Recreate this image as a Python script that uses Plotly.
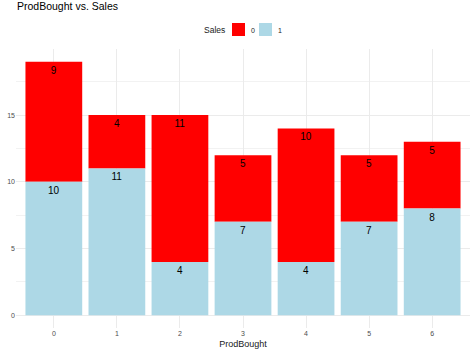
import plotly.graph_objects as go

prod_bought = ["0", "1", "2", "3", "4", "5", "6"]
sales_1 = [10, 11, 4, 7, 4, 7, 8]
sales_0 = [9, 4, 11, 5, 10, 5, 5]
legend_title = "Sales"
legend_labels = ["0", "1"]
legend_colors = ["#ff0000", "#add8e6"]

FONT = "Liberation Sans, Arial, sans-serif"
W, H = 474, 355
LABEL_SIZE = 10

fig = go.Figure()
fig.add_trace(go.Bar(
    x=prod_bought, y=sales_0, name="0", marker=dict(color=legend_colors[0], line=dict(width=0)),
    text=sales_0, textposition="inside", insidetextanchor="end",
    insidetextfont=dict(color="black", size=LABEL_SIZE, family=FONT), textangle=0,
    offsetgroup="a", base=sales_1, showlegend=False, hoverinfo="skip",
))
fig.add_trace(go.Bar(
    x=prod_bought, y=sales_1, name="1", marker=dict(color=legend_colors[1], line=dict(width=0)),
    text=sales_1, textposition="inside", insidetextanchor="end",
    insidetextfont=dict(color="black", size=LABEL_SIZE, family=FONT), textangle=0,
    offsetgroup="a", showlegend=False, hoverinfo="skip",
))

def px_x(p):
    return p / W

def px_y(p):
    return 1 - p / H

# compact ggplot-style legend
annotations = [dict(text=legend_title, x=px_x(227), y=px_y(30), xref="paper", yref="paper",
                    xanchor="right", yanchor="middle", showarrow=False,
                    font=dict(size=8.5, color="#1a1a1a", family=FONT))]
shapes = []
key_left = [232, 259]
for lab, col, kl in zip(legend_labels, legend_colors, key_left):
    shapes.append(dict(type="rect", xref="paper", yref="paper",
                       x0=px_x(kl), x1=px_x(kl + 13), y0=px_y(36), y1=px_y(23),
                       fillcolor=col, line=dict(width=0)))
    annotations.append(dict(text=lab, x=px_x(kl + 17), y=px_y(30), xref="paper", yref="paper",
                            xanchor="left", yanchor="middle", showarrow=False,
                            font=dict(size=7, color="#1a1a1a", family=FONT)))

fig.update_layout(
    width=W, height=H,
    barmode="overlay", bargap=0.1,
    plot_bgcolor="white", paper_bgcolor="white",
    font=dict(family=FONT, color="#1a1a1a"),
    margin=dict(l=0, r=0, t=0, b=0, autoexpand=False),
    showlegend=False,
    title=dict(text="ProdBought vs. Sales", x=17/W, xanchor="left", xref="container",
               y=1 - 3/H, yref="container", yanchor="top",
               font=dict(size=10.5, color="black", family=FONT)),
    uniformtext=dict(mode="show", minsize=LABEL_SIZE),
    xaxis=dict(range=[-0.6, 6.6], showgrid=True, gridcolor="#ebebeb", gridwidth=1,
               domain=[px_x(16), px_x(470)],
               ticks="", showline=False, zeroline=False, automargin=False,
               tickfont=dict(size=7, color="#4d4d4d"),
               title=dict(text="ProdBought", font=dict(size=9, color="#1a1a1a"), standoff=4)),
    yaxis=dict(range=[-0.95, 19.95], dtick=5, showgrid=True, gridcolor="#ebebeb", gridwidth=1,
               domain=[px_y(328), px_y(49)],
               minor=dict(dtick=2.5, showgrid=True, gridcolor="#f2f2f2", gridwidth=0.5),
               ticks="", showline=False, zeroline=False, automargin=False,
               tickfont=dict(size=7, color="#4d4d4d")),
    annotations=annotations,
    shapes=shapes,
)

fig.write_html("out.html", config={"displayModeBar": False},
               post_script="document.body.style.margin='0';")
